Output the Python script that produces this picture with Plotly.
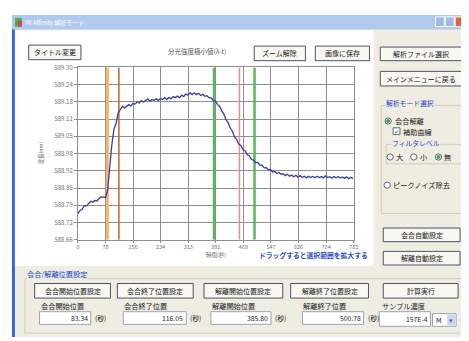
import plotly.graph_objects as go

# ---------------- data ----------------
time_s = [0, 6, 12, 18, 24, 30, 36, 42, 48, 54, 60, 66, 72, 78, 84, 90, 96, 102, 108, 114,
          120, 126, 132, 138, 144, 150, 156, 162, 168, 174, 180, 186, 192, 198, 204, 210, 216, 222, 228, 234,
          240, 246, 252, 258, 264, 270, 276, 282, 288, 294, 300, 306, 312, 318, 324, 330, 336, 342, 348, 354,
          360, 366, 372, 378, 384, 390, 396, 402, 408, 414, 420, 426, 432, 438, 444, 450, 456, 462, 468, 474,
          480, 486, 492, 498, 504, 510, 516, 522, 528, 534, 540, 546, 552, 558, 564, 570, 576, 582, 588, 594,
          600, 606, 612, 618, 624, 630, 636, 642, 648, 654, 660, 666, 672, 678, 684, 690, 696, 702, 708, 714,
          720, 726, 732, 738, 744, 750, 756, 762, 768, 774, 780]
wavelength_nm = [588.757, 588.769, 588.773, 588.787, 588.785, 588.795, 588.803, 588.799, 588.806, 588.804,
                 588.814, 588.819, 588.817, 588.817, 588.842, 588.930, 589.012, 589.070, 589.092, 589.131,
                 589.145, 589.155, 589.150, 589.157, 589.162, 589.157, 589.166, 589.164, 589.172, 589.168,
                 589.177, 589.172, 589.179, 589.183, 589.175, 589.181, 589.178, 589.184, 589.178, 589.185,
                 589.181, 589.188, 589.181, 589.188, 589.184, 589.192, 589.188, 589.194, 589.188, 589.197,
                 589.192, 589.202, 589.197, 589.206, 589.199, 589.206, 589.199, 589.204, 589.196, 589.200,
                 589.193, 589.195, 589.187, 589.187, 589.177, 589.175, 589.162, 589.155, 589.138, 589.127,
                 589.105, 589.095, 589.075, 589.063, 589.042, 589.033, 589.015, 589.010, 588.995, 588.991,
                 588.976, 588.972, 588.958, 588.956, 588.946, 588.947, 588.937, 588.937, 588.927, 588.928,
                 588.920, 588.921, 588.912, 588.914, 588.906, 588.910, 588.903, 588.905, 588.898, 588.903,
                 588.896, 588.900, 588.894, 588.899, 588.893, 588.898, 588.891, 588.896, 588.890, 588.896,
                 588.891, 588.895, 588.890, 588.896, 588.891, 588.895, 588.890, 588.897, 588.891, 588.894,
                 588.889, 588.895, 588.890, 588.895, 588.889, 588.893, 588.888, 588.894, 588.887, 588.892,
                 588.887]

marker_times = [83.34, 116.05, 385.80, 458.0, 500.78]
marker_colors = ["#F7B468", "#C0622C", "#5CB65C", "#E39090", "#5CB65C"]
marker_widths = [3, 1.5, 2.5, 1.5, 2.5]

x_tickvals = [0, 78.2, 156.4, 234.6, 312.8, 391, 469.2, 547.4, 625.6, 703.8, 782]
x_ticktext = ["0", "78", "156", "234", "313", "391", "469", "547", "626", "704", "782"]
y_tickvals = [588.660, 588.724, 588.788, 588.852, 588.916, 588.980, 589.044, 589.108, 589.172, 589.236, 589.300]
y_ticktext = ["588.66", "588.72", "588.79", "588.85", "588.92", "588.98", "589.05", "589.11", "589.18", "589.24", "589.30"]

bottom_buttons = ["会合開始位置設定", "会合終了位置設定", "解離開始位置設定", "解離終了位置設定"]
position_labels = ["会合開始位置", "会合終了位置", "解離開始位置", "解離終了位置"]
position_values = ["83.34", "116.05", "385.80", "500.78"]

# ---------------- helpers ----------------
# the page body has an 8px default margin, so the figure is drawn 8px smaller
OFF = 8
W, H = 469 - OFF, 341 - OFF
FONT = "Noto Sans CJK JP, sans-serif"
shapes, annots = [], []


def px(x):
    return (x - OFF) / W


def py(y):
    return 1 - (y - OFF) / H


def rect(x0, y0, x1, y1, fill, line=None, lw=1, layer="below"):
    shapes.append(dict(type="rect", xref="paper", yref="paper",
                       x0=px(x0), x1=px(x1), y0=py(y1), y1=py(y0),
                       fillcolor=fill, layer=layer,
                       line=dict(color=line if line else "rgba(0,0,0,0)", width=lw if line else 0)))


def circle(cx, cy, r, fill, line):
    shapes.append(dict(type="circle", xref="paper", yref="paper",
                       x0=px(cx - r), x1=px(cx + r), y0=py(cy + r), y1=py(cy - r),
                       fillcolor=fill, layer="below", line=dict(color=line, width=1)))


def text(x, y, s, size=8, color="#222222", anchor="left", bg=None, angle=0):
    a = dict(xref="paper", yref="paper", x=px(x), y=py(y), text=s, showarrow=False,
             xanchor=anchor, yanchor="middle", textangle=angle, borderpad=0,
             font=dict(size=size, color=color, family=FONT))
    if bg:
        a["bgcolor"] = bg
    annots.append(a)


def button(x0, y0, x1, y1, label, size=7):
    rect(x0, y0, x1, y1, "#F8F7F2", "#4A5566", 1)
    text((x0 + x1) / 2, (y0 + y1) / 2, label, size=size, color="#202020", anchor="center")


def radio(cx, cy, on=False):
    circle(cx, cy, 3.2, "#FFFFFF", "#5A6A80")
    if on:
        circle(cx, cy, 1.6, "#3DAA3D", "#3DAA3D")


# ---------------- window chrome ----------------
BEIGE = "#EFEDE1"
rect(10, 10, 469, 341, BEIGE)
rect(10, 10, 13, 341, "#3564D6")
rect(10, 10, 469, 25, "#B2C9EF")
rect(13, 13, 20, 22, "#4AAE4A")
rect(16, 16, 20, 22, "#D04848")
text(22, 17.5, "MI Affinity 解析モード", size=6, color="#FFFFFF")
rect(440, 12, 449, 22, "#9DBAEB", "#FFFFFF", 1)
rect(450, 12, 459, 22, "#9DBAEB", "#FFFFFF", 1)
rect(460, 12, 469, 22, "#E2623C", "#FFFFFF", 1)

# chart panel
rect(13, 26, 377, 268, "#FFFFFF")
button(27, 41, 80, 56, "タイトル変更")
text(198, 47, "分光強度極小値(λ-t)", size=6.5, color="#555555", anchor="center")
button(256, 42, 308, 57, "ズーム解除")
button(318, 42, 373, 57, "画像に保存")
text(217, 257, "時間(秒)", size=5.5, color="#666666", anchor="center")
text(316, 257, "<b>ドラッグすると選択範囲を拡大する</b>", size=6.8, color="#2B4BC8", anchor="center")
text(40, 152, "波長(nm)", size=5.5, color="#666666", anchor="center", angle=-90)

# right panel
button(384, 43, 467, 57, "解析ファイル選択")
button(384, 68, 467, 83, "メインメニューに戻る")
rect(385, 103, 467, 214, "rgba(0,0,0,0)", "#CFCBBE", 1)
text(389, 101, "解析モード選択", size=6.8, color="#2244CC", bg=BEIGE)
radio(392, 119, True)
text(398, 119, "会合解離", size=7.2)
rect(397, 126, 404, 133, "#FFFFFF", "#5A6A80", 1)
text(400.5, 129.5, "✔", size=6, color="#2E9A2E", anchor="center")
text(406, 130, "補助曲線", size=7.2)
rect(390, 143, 467, 163, "rgba(0,0,0,0)", "#CFCBBE", 1)
text(395, 142, "フィルタレベル", size=6.8, color="#2244CC", bg=BEIGE)
radio(394, 156)
text(399, 156, "大", size=7.2)
radio(418, 156)
text(423, 156, "小", size=7.2)
radio(443, 156, True)
text(448, 156, "無", size=7.2)
radio(391, 185)
text(396, 185, "ピークノイズ除去", size=7.2)
button(387, 229, 465, 243, "会合自動設定")
button(387, 253, 465, 267, "解離自動設定")

# bottom panel
rect(23, 281, 467, 337, "rgba(0,0,0,0)", "#CFCBBE", 1)
text(24, 276, "会合/解離位置設定", size=7.2, color="#2244CC", bg=BEIGE)
btn_x = [(33, 110), (117, 194), (205, 285), (293, 372)]
box_x = [(38, 90), (123, 187), (212, 273), (305, 367)]
for (bx0, bx1), lab in zip(btn_x, bottom_buttons):
    button(bx0, 286, bx1, 301, lab)
button(387, 286, 463, 301, "計算実行")
for (tx0, tx1), lab, val in zip(box_x, position_labels, position_values):
    text(tx0, 309.5, lab, size=7.2)
    rect(tx0, 315, tx1, 328, "#FFFFFF", "#9AA4B4", 1)
    text(tx1 - 2, 321.5, val, size=6.8, anchor="right")
    text(tx1 + 3, 321.5, "(秒)", size=6.8)
text(385, 309.5, "サンプル濃度", size=7.2)
rect(383, 315, 435, 330, "#FFFFFF", "#9AA4B4", 1)
text(433, 322.5, "157E-4", size=6.8, anchor="right")
rect(437, 317, 461, 330, "#FFFFFF", "#9AA4B4", 1)
text(440, 323.5, "M", size=6.8)
rect(452, 318, 460, 329, "#C9D8F2")
text(456, 323.5, "▾", size=7, color="#4A6AB0", anchor="center")

# ---------------- chart ----------------
fig = go.Figure()
for t, c, w in zip(marker_times, marker_colors, marker_widths):
    fig.add_trace(go.Scatter(x=[t, t], y=[y_tickvals[0], y_tickvals[-1]], mode="lines",
                             line=dict(color=c, width=w), hoverinfo="skip", showlegend=False))
fig.add_trace(go.Scatter(x=time_s, y=wavelength_nm, mode="lines",
                         line=dict(color="#3B3DA6", width=1.3), showlegend=False))

AX = "#8E8E8E"
fig.update_layout(
    width=W, height=H, margin=dict(l=0, r=0, t=0, b=0),
    paper_bgcolor="#FFFFFF", plot_bgcolor="rgba(0,0,0,0)",
    shapes=shapes, annotations=annots,
    xaxis=dict(domain=[px(77), px(357)], range=[0, 782], tickvals=x_tickvals, ticktext=x_ticktext,
               showgrid=True, gridcolor=AX, gridwidth=1, showline=True, linecolor=AX, mirror=True,
               ticks="outside", ticklen=2, tickcolor=AX, zeroline=False,
               tickfont=dict(size=5.5, color="#707070", family=FONT)),
    yaxis=dict(domain=[py(241), py(64)], range=[588.66, 589.30], tickvals=y_tickvals, ticktext=y_ticktext,
               showgrid=True, gridcolor=AX, gridwidth=1, showline=True, linecolor=AX, mirror=True,
               ticks="outside", ticklen=3, tickcolor=AX, zeroline=False,
               tickfont=dict(size=6, color="#707070", family=FONT)),
    font=dict(family=FONT),
)

fig.write_html("out.html")
